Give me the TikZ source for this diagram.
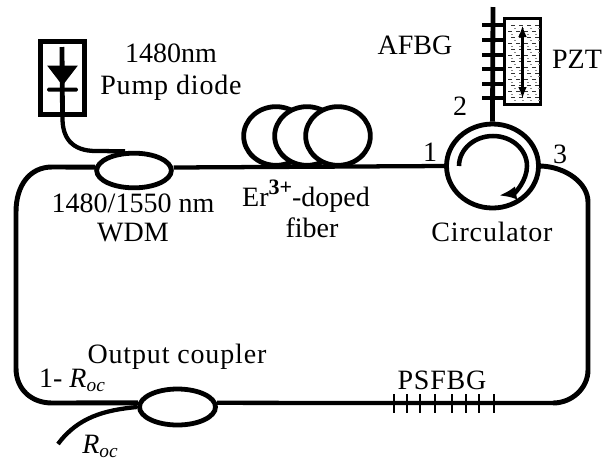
\documentclass[tikz,border=0pt]{standalone}
\usepackage{fontspec}
\setmainfont{Liberation Serif}
\usetikzlibrary{shapes.geometric,arrows.meta}
\newcommand{\subroc}{\raisebox{-3.5pt}{\fontsize{14.5}{15}\selectfont\itshape oc}}
\newcommand{\spaced}{\addfontfeature{LetterSpace=3}}
\tikzset{
  x=0.75pt,y=-0.75pt,
  fib/.style={line width=3.2pt,black},
  thick fib/.style={line width=3.7pt,black},
  coup/.style={draw,ellipse,line width=3.6pt,inner sep=0pt,fill=white},
  coil/.style={draw,ellipse,line width=3.6pt,inner sep=0pt,fill=white,minimum width=48.5pt,minimum height=44pt},
  lab/.style={anchor=base,inner sep=0pt,font=\fontsize{21}{24}\selectfont},
  tick/.style={line width=1.8pt,black},
  atick/.style={line width=2.3pt,black},
}
\begin{document}
\begin{tikzpicture}
\useasboundingbox (0,0) rectangle (607,462);
% pump
\node[draw,line width=3.6pt,minimum width=33pt,minimum height=54.5pt,inner sep=0pt] (pump) at (62.5,78) {};
\coordinate (dtop) at (62,47);
\draw[line width=3.6pt] (dtop) -- (pump.south);
\node[isosceles triangle,shape border rotate=-90,isosceles triangle apex angle=76,isosceles triangle stretches,fill=black,inner sep=0pt,minimum width=23pt,minimum height=15pt,anchor=apex] (diode) at (62.5,86) {};
\node[fill=black,minimum width=23pt,minimum height=3pt,inner sep=0pt,rounded corners=1pt] (dbar) at (62.5,89.5) {};
% couplers
\node[coup,minimum width=56pt,minimum height=26pt] (wdm) at (134,170.5) {};
\node[coup,minimum width=57pt,minimum height=27pt] (oc) at (177.5,407) {};
% circulator
\node[coup,minimum width=69pt,minimum height=63pt] (circ) at (492.5,166) {};
% coils
\node[coil] (c1) at (276,136) {};
\node[coil] (c2) at (307,136) {};
\node[coil] (c3) at (338,136) {};
% fibres
\draw[fib] (pump.south) .. controls (62,138) and (72,151) .. (96,151) -- (wdm.115);
\draw[fib] (wdm.east) ++(0,-3) -- (circ.west);
\draw[thick fib] (wdm.175) -- (52,167) .. controls (30,167) and (16,185) .. (16,212) -- (16,368) .. controls (16,390) and (32,403) .. (52,403) -- (oc.174);
\draw[fib] (oc.6) -- (553,403);
\draw[thick fib] (553,403) .. controls (572,403) and (588,388) .. (588,370) -- (588,202) .. controls (588,183) and (566,167) .. (circ.east);
\coordinate (roc) at (58,444);
\draw[fib] (oc.west) .. controls (105,410) and (78,417) .. (roc);
% circulator arrow
\draw[line width=3.4pt,-{Latex[length=13pt,width=10pt]}] (459,166) arc[start angle=180,end angle=440,x radius=34,y radius=30];
% AFBG
\coordinate (atop) at (493,7);
\draw[line width=3.6pt] (atop) -- (circ.north);
\foreach \y in {25,40,55,69,84,98} \draw[atick] (482,\y) -- (503,\y);
% PZT
\node[draw,line width=2.4pt,minimum width=27.5pt,minimum height=64pt,inner sep=0pt,fill=white] (pzt) at (522.5,61.5) {};
\foreach \yy [count=\i] in {25,31,37,43,49,55,61,67,73,79,85,91,97} {
  \foreach \xx in {508,516,524,532} {
    \fill[black!80] ({\xx+mod(\i,2)*3},\yy) rectangle ++(4,1.4);
    \fill[black!45] ({\xx+3+mod(\i,2)*3},\yy+3) rectangle ++(1.6,1.4);
  }
}
\coordinate (pa) at (522.5,25);
\coordinate (pb) at (522.5,99);
\draw[line width=2.7pt,{Latex[length=9pt,width=6.5pt]}-{Latex[length=9pt,width=6.5pt]}] (pa) -- (pb);
% PSFBG
\foreach \x in {394,407,420,435,452,466,479,494} \draw[tick] (\x,394) -- (\x,413);
% labels
\node[lab] (l1) at (171,62) {1480nm};
\node[lab] (l2) at (171,94) {\spaced Pump diode};
\node[lab] (l3) at (133,212) {1480/1550 nm};
\node[lab] (l4) at (133,241) {WDM};
\node[lab] (l5) at (306,206) {Er\raisebox{8.5pt}{\fontsize{16.5}{17}\selectfont\bfseries 3+}-doped};
\node[lab] (l6) at (312,237) {fiber};
\node[lab] (l7) at (492,241) {\spaced Circulator};
\node[lab] (l8) at (415,54) {AFBG};
\node[lab] (l9) at (577,68) {PZT};
\node[lab] (n2) at (460,115) {2};
\node[lab] (n1) at (430,161) {1};
\node[lab] (n3) at (560,163) {3};
\node[lab] (l10) at (177,363) {\spaced Output coupler};
\node[lab] (l11) at (72,387) {1- \textit{R}\subroc};
\node[lab] (l12) at (100,453) {\textit{R}\subroc};
\node[lab] (l13) at (442,389) {\spaced PSFBG};
\end{tikzpicture}
\end{document}
